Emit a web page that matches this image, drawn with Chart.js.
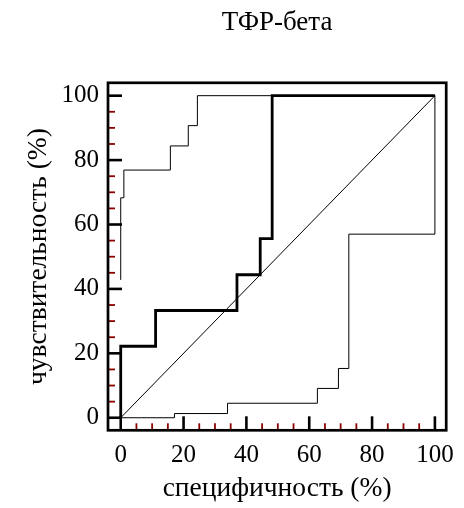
<!DOCTYPE html>
<html>
<head>
<meta charset="utf-8">
<script src="https://cdn.jsdelivr.net/npm/chart.js@4.4.1/dist/chart.umd.min.js"></script>
<style>
  html, body { margin: 0; padding: 0; background: #ffffff; }
  #wrap { width: 464px; height: 508px; }
</style>
</head>
<body>
<div id="wrap"><canvas id="chart"></canvas></div>
<script>
// ROC-кривая (жирная линия)
const rocX = [0, 0, 11.1, 11.1, 37, 37, 44.4, 44.4, 48.2, 48.2, 100];
const rocY = [0, 22.2, 22.2, 33.3, 33.3, 44.4, 44.4, 55.6, 55.6, 100, 100];

// верхняя граница доверительного интервала
const upperX = [0, 0, 1, 1, 15.8, 15.8, 21.5, 21.5, 24.4, 24.4, 100];
const upperY = [42.8, 68.3, 68.3, 76.9, 76.9, 84.4, 84.4, 90.7, 90.7, 100, 100];

// нижняя граница доверительного интервала
const lowerX = [0, 17.1, 17.1, 34, 34, 62.6, 62.6, 69.3, 69.3, 72.6, 72.6, 100, 100];
const lowerY = [0, 0, 1.3, 1.3, 4.5, 4.5, 9.1, 9.1, 15.3, 15.3, 57, 57, 100];

// диагональ
const diagX = [0, 100];
const diagY = [0, 100];

const xTicks = [0, 20, 40, 60, 80, 100];
const yTicks = [0, 20, 40, 60, 80, 100];
const minorStep = 5;

const TITLE = "ТФР-бета";
const X_TITLE = "специфичность (%)";
const Y_TITLE = "чувствительность (%)";

const SERIF = "'Liberation Serif', 'Times New Roman', serif";

function toPoints(xs, ys) {
    return xs.map((x, i) => ({ x, y: ys[i] }));
}

function lineDataset(label, xs, ys, width) {
    return {
        label,
        data: toPoints(xs, ys),
        showLine: true,
        borderColor: "#000000",
        borderWidth: width,
        pointRadius: 0,
        fill: false,
        tension: 0,
        borderJoinStyle: "miter",
    };
}

// заголовок над областью графика, рамка и внутренние засечки
const framePlugin = {
    id: "frame",
    beforeDatasetsDraw(chart) {
        const { ctx, chartArea: a, scales } = chart;
        const xs = scales.x;
        const ys = scales.y;
        ctx.save();
        for (let v = 0; v <= 100; v += minorStep) {
            const major = v % 20 === 0;
            ctx.strokeStyle = major ? "#000000" : "#8b0000";
            ctx.lineWidth = major ? 2.6 : 1.8;
            const len = major ? 14 : 7;
            const px = xs.getPixelForValue(v);
            ctx.beginPath();
            ctx.moveTo(px, a.bottom);
            ctx.lineTo(px, a.bottom - len);
            ctx.stroke();
            const py = ys.getPixelForValue(v);
            ctx.beginPath();
            ctx.moveTo(a.left, py);
            ctx.lineTo(a.left + len, py);
            ctx.stroke();
        }
        ctx.restore();
    },
    afterDatasetsDraw(chart) {
        const { ctx, chartArea: a } = chart;
        ctx.save();
        ctx.strokeStyle = "#000000";
        ctx.lineWidth = 2.7;
        ctx.strokeRect(a.left, a.top, a.right - a.left, a.bottom - a.top);

        ctx.fillStyle = "#000000";
        ctx.font = "normal 400 27px 'Liberation Serif', serif";
        ctx.textAlign = "center";
        ctx.textBaseline = "alphabetic";
        ctx.fillText(TITLE, (a.left + a.right) / 2, a.top - 52.8);
        ctx.restore();
    },
};

new Chart(document.getElementById("chart"), {
    type: "scatter",
    data: {
        datasets: [
            lineDataset("diag", diagX, diagY, 1),
            lineDataset("lower", lowerX, lowerY, 1),
            lineDataset("upper", upperX, upperY, 1),
            lineDataset("roc", rocX, rocY, 2.8),
        ],
    },
    options: {
        responsive: true,
        maintainAspectRatio: false,
        animation: false,
        layout: { padding: { top: 82.8, right: 10.5, bottom: 0, left: 0 } },
        plugins: {
            legend: { display: false },
            tooltip: { enabled: false },
            title: { display: false },
        },
        scales: {
            x: {
                type: "linear",
                min: -4.05,
                max: 103.6,
                afterBuildTicks(scale) {
                    scale.ticks = xTicks.map((value) => ({ value }));
                },
                afterFit(scale) {
                    scale.height = 508 - 430.3;
                },
                grid: { display: false, drawTicks: false, tickLength: 0 },
                border: { display: false },
                ticks: {
                    color: "#000000",
                    font: { family: SERIF, size: 25 },
                    padding: 10,
                    maxRotation: 0,
                },
                title: {
                    display: true,
                    text: X_TITLE,
                    color: "#000000",
                    font: { family: SERIF, size: 27.5 },
                    padding: { top: 0, bottom: 3 },
                },
            },
            y: {
                type: "linear",
                min: -3.9,
                max: 104,
                afterBuildTicks(scale) {
                    scale.ticks = yTicks.map((value) => ({ value }));
                },
                afterFit(scale) {
                    scale.width = 108;
                },
                grid: { display: false, drawTicks: false, tickLength: 0 },
                border: { display: false },
                ticks: {
                    color: "#000000",
                    font: { family: SERIF, size: 25 },
                    padding: 9,
                },
                title: {
                    display: true,
                    text: Y_TITLE,
                    color: "#000000",
                    font: { family: SERIF, size: 27.5 },
                    padding: { top: 22, bottom: 0 },
                },
            },
        },
    },
    plugins: [framePlugin],
});
</script>
</body>
</html>
